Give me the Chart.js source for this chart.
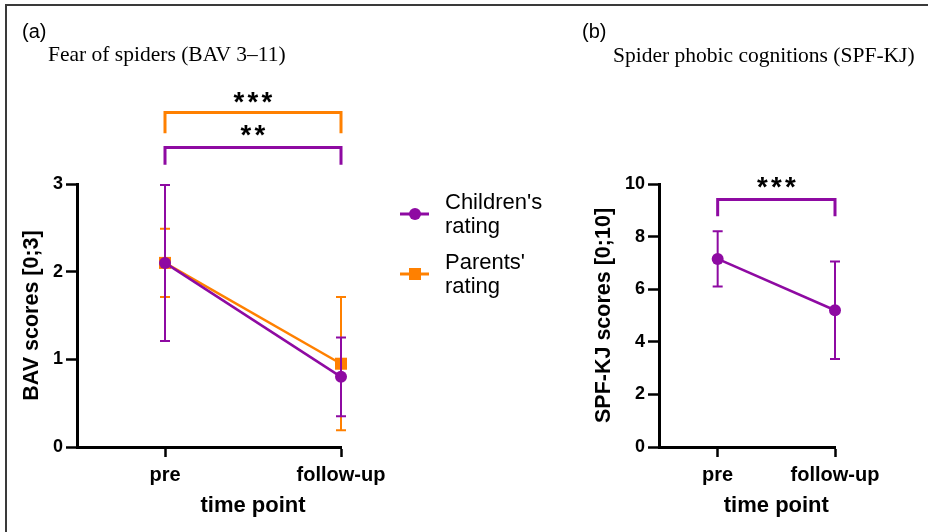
<!DOCTYPE html>
<html>
<head>
<meta charset="utf-8">
<script src="https://cdn.jsdelivr.net/npm/chart.js@4.4.0/dist/chart.umd.min.js"></script>
<style>
  html, body { margin: 0; background: #fff; overflow: hidden; }
  #frame { position: absolute; left: 5px; top: 4px; width: 921px; height: 526px;
           border-left: 2px solid #3a3a3a; border-top: 2px solid #3a3a3a; }
  canvas { position: absolute; top: 0; }
</style>
</head>
<body>
<div id="frame"></div>
<canvas id="chartA" width="575" height="532" style="left:0"></canvas>
<canvas id="chartB" width="353" height="532" style="left:575px"></canvas>
<script>
const timePoints = ['pre', 'follow-up'];
const bavTicks = [0, 1, 2, 3];
const spfTicks = [0, 2, 4, 6, 8, 10];

// (a) BAV scores, mean with error bars
const childMean = [2.1, 0.8];
const childUpper = [2.99, 1.25];
const childLower = [1.21, 0.35];
const parentMean = [2.1, 0.95];
const parentUpper = [2.49, 1.71];
const parentLower = [1.71, 0.19];

// (b) SPF-KJ scores
const spfMean = [7.15, 5.2];
const spfUpper = [8.2, 7.05];
const spfLower = [6.1, 3.35];

const PURPLE = '#8e0aa2';
const ORANGE = '#ff8000';
const SANS = "'Liberation Sans', Arial, sans-serif";
const SERIF = "'Liberation Serif', 'Times New Roman', serif";

function toPoints(values) {
  return values.map((v, i) => ({ x: i, y: v }));
}

// error bars drawn right before each dataset so the stacking matches
const errorBars = {
  id: 'errorBars',
  beforeDatasetDraw(chart, args) {
    const ds = chart.data.datasets[args.index];
    if (!ds.upper) return;
    const ctx = chart.ctx;
    const xs = chart.scales.x, ys = chart.scales.y;
    ctx.save();
    ctx.strokeStyle = ds.borderColor;
    ctx.lineWidth = 2;
    ds.data.forEach((p, i) => {
      const px = xs.getPixelForValue(p.x);
      const top = ys.getPixelForValue(ds.upper[i]);
      const bot = ys.getPixelForValue(ds.lower[i]);
      ctx.beginPath();
      ctx.moveTo(px, top); ctx.lineTo(px, bot);
      ctx.moveTo(px - 5, top); ctx.lineTo(px + 5, top);
      ctx.moveTo(px - 5, bot); ctx.lineTo(px + 5, bot);
      ctx.stroke();
    });
    ctx.restore();
  }
};

function drawStars(ctx, n, cx, cy) {
  ctx.save();
  ctx.font = 'bold 100px ' + SANS;
  let m = ctx.measureText('*');
  const size = 100 * 10.5 / (m.actualBoundingBoxAscent + m.actualBoundingBoxDescent);
  ctx.font = 'bold ' + size + 'px ' + SANS;
  m = ctx.measureText('*');
  ctx.fillStyle = '#000';
  ctx.textAlign = 'center';
  ctx.textBaseline = 'alphabetic';
  const y = cy + (m.actualBoundingBoxAscent - m.actualBoundingBoxDescent) / 2;
  for (let i = 0; i < n; i++) {
    ctx.fillText('*', cx + (i - (n - 1) / 2) * 14, y);
  }
  ctx.restore();
}

// panel labels, significance brackets, x title and legend
const extras = {
  id: 'extras',
  afterDraw(chart, args, opts) {
    const ctx = chart.ctx;
    const xs = chart.scales.x, ys = chart.scales.y;
    ctx.save();
    ctx.fillStyle = '#000';
    ctx.textBaseline = 'alphabetic';
    ctx.textAlign = 'left';
    (opts.texts || []).forEach(t => {
      ctx.font = t.font;
      ctx.fillText(t.text, t.x, t.y);
    });

    (opts.brackets || []).forEach(b => {
      const x0 = xs.getPixelForValue(b.from), x1 = xs.getPixelForValue(b.to);
      const yt = ys.getPixelForValue(b.top), yb = ys.getPixelForValue(b.bottom);
      ctx.strokeStyle = b.color;
      ctx.lineWidth = 3;
      ctx.lineJoin = 'miter';
      ctx.beginPath();
      ctx.moveTo(x0, yb); ctx.lineTo(x0, yt); ctx.lineTo(x1, yt); ctx.lineTo(x1, yb);
      ctx.stroke();
      drawStars(ctx, b.stars, (x0 + x1) / 2, ys.getPixelForValue(b.starY));
    });

    // x title centred between the two time points
    ctx.font = 'bold 22px ' + SANS;
    ctx.textAlign = 'center';
    ctx.textBaseline = 'middle';
    const mid = (xs.getPixelForValue(0) + xs.getPixelForValue(1)) / 2;
    ctx.fillText('time point', mid, 506);

    if (opts.legend) {
      ctx.textAlign = 'left';
      ctx.textBaseline = 'alphabetic';
      ctx.font = '22px ' + SANS;
      opts.legend.forEach(item => {
        const ds = chart.data.datasets[item.index];
        ctx.strokeStyle = ds.borderColor;
        ctx.fillStyle = ds.borderColor;
        ctx.lineWidth = 3;
        ctx.beginPath();
        ctx.moveTo(400, item.y); ctx.lineTo(429, item.y);
        ctx.stroke();
        if (ds.pointStyle === 'rect') {
          ctx.fillRect(415 - 6, item.y - 6, 12, 12);
        } else {
          ctx.beginPath();
          ctx.arc(415, item.y, 6, 0, Math.PI * 2);
          ctx.fill();
        }
        ctx.fillStyle = '#000';
        const lines = ds.label.split(' ');
        ctx.fillText(lines[0], 445, item.y - 5);
        ctx.fillText(lines[1], 445, item.y + 19);
      });
    }
    ctx.restore();
  }
};

function makeOptions(yTicks, yTitle, padding, yWidth, extraOpts) {
  return {
    responsive: false,
    animation: false,
    layout: { padding: padding },
    plugins: {
      legend: { display: false },
      tooltip: { enabled: false },
      extras: extraOpts
    },
    scales: {
      x: {
        type: 'linear',
        min: -0.5,
        max: 1,
        afterBuildTicks: s => { s.ticks = timePoints.map((t, i) => ({ value: i })); },
        afterFit: s => { s.height = 75; },
        ticks: {
          callback: v => timePoints[v],
          color: '#000',
          padding: 6,
          font: { family: SANS, size: 20, weight: 'bold' }
        },
        grid: { drawOnChartArea: false, drawTicks: true, tickLength: 10, tickWidth: 2.5, tickColor: '#000' },
        border: { display: true, color: '#000', width: 3 }
      },
      y: {
        min: yTicks[0],
        max: yTicks[yTicks.length - 1],
        afterBuildTicks: s => { s.ticks = yTicks.map(v => ({ value: v })); },
        afterFit: s => { s.width = yWidth; },
        ticks: {
          color: '#000',
          padding: 3,
          font: { family: SANS, size: 18, weight: 'bold' }
        },
        title: {
          display: true,
          text: yTitle,
          color: '#000',
          padding: { top: 2, bottom: 2 },
          font: { family: SANS, size: 21.5, weight: 'bold' }
        },
        grid: { drawOnChartArea: false, drawTicks: true, tickLength: 11, tickWidth: 2.5, tickColor: '#000' },
        border: { display: true, color: '#000', width: 3 }
      }
    }
  };
}

function lineDataset(label, values, upper, lower, color, style, radius) {
  return {
    label: label,
    data: toPoints(values),
    upper: upper,
    lower: lower,
    borderColor: color,
    backgroundColor: color,
    borderWidth: 2.5,
    pointStyle: style,
    pointRadius: radius,
    pointBorderWidth: 0,
    pointBackgroundColor: color,
    clip: false,
    tension: 0
  };
}

new Chart(document.getElementById('chartA'), {
  type: 'line',
  data: {
    datasets: [
      lineDataset("Children's rating", childMean, childUpper, childLower, PURPLE, 'circle', 6),
      lineDataset("Parents' rating", parentMean, parentUpper, parentLower, ORANGE, 'rect', 8.5)
    ]
  },
  options: makeOptions(bavTicks, 'BAV scores [0;3]',
    { left: 17, right: 234, top: 184, bottom: 10 }, 60, {
      texts: [
        { text: '(a)', x: 22, y: 38, font: '20px ' + SANS },
        { text: 'Fear of spiders (BAV 3\u201311)', x: 48, y: 61, font: '21.5px ' + SERIF }
      ],
      brackets: [
        { from: 0, to: 1, top: 3.815, bottom: 3.58, color: ORANGE, stars: 3, starY: 3.986 },
        { from: 0, to: 1, top: 3.417, bottom: 3.22, color: PURPLE, stars: 2, starY: 3.606 }
      ],
      legend: [ { index: 0, y: 214 }, { index: 1, y: 274 } ]
    }),
  plugins: [errorBars, extras]
});

new Chart(document.getElementById('chartB'), {
  type: 'line',
  data: {
    datasets: [
      lineDataset('SPF-KJ', spfMean, spfUpper, spfLower, PURPLE, 'circle', 6)
    ]
  },
  options: makeOptions(spfTicks, 'SPF-KJ scores [0;10]',
    { left: 14, right: 93, top: 184, bottom: 10 }, 70, {
      texts: [
        { text: '(b)', x: 7, y: 38, font: '20px ' + SANS },
        { text: 'Spider phobic cognitions (SPF-KJ)', x: 38, y: 62, font: '21.5px ' + SERIF }
      ],
      brackets: [
        { from: 0, to: 1, top: 9.41, bottom: 8.77, color: PURPLE, stars: 3, starY: 10.07 }
      ]
    }),
  plugins: [errorBars, extras]
});
</script>
</body>
</html>
